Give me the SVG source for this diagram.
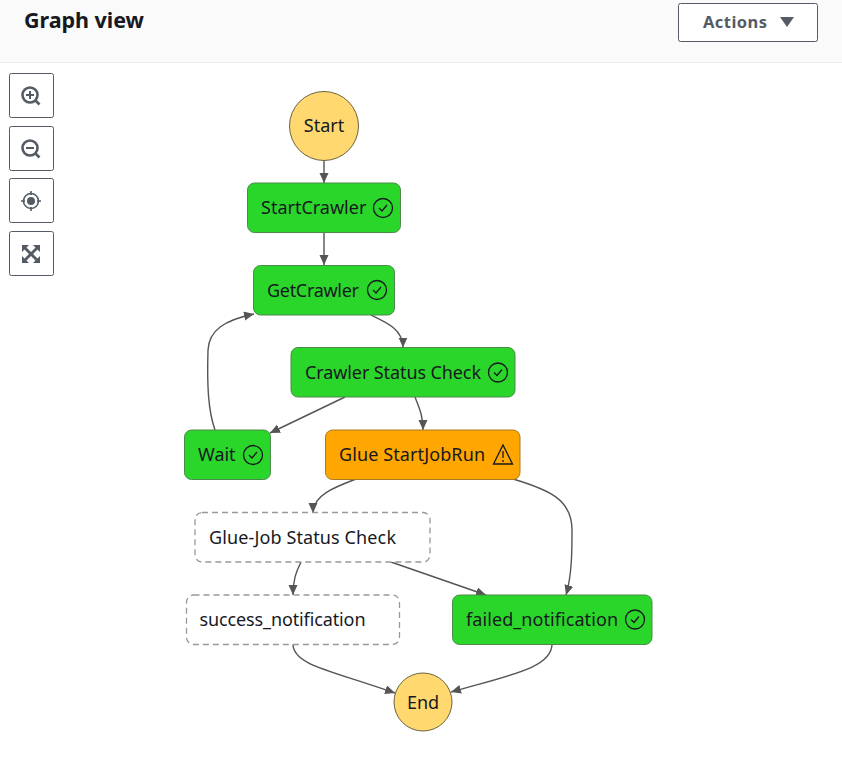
<svg xmlns="http://www.w3.org/2000/svg" width="842" height="770" viewBox="0 0 842 770">
<style>
text{font-family:"Noto Sans","Open Sans",sans-serif;font-size:18px;fill:#16191f}
.n{fill:#2bd62b;stroke:#4b8a4b;stroke-width:1}
.o{fill:#ffa600;stroke:#a87a20;stroke-width:1}
.d{fill:#fff;stroke:#999;stroke-width:1.3;stroke-dasharray:6 4}
.c{fill:#ffd86f;stroke:#6b6340;stroke-width:1}
.e{fill:none;stroke:#555;stroke-width:1.4}
.btn{fill:#fff;stroke:#545b64;stroke-width:1}
.i{fill:none;stroke:#545b64;stroke-width:2.6}
.f{fill:#545b64}
.k{fill:none;stroke:#16191f;stroke-width:1.3}
</style>
<defs>
<marker id="a" markerUnits="userSpaceOnUse" markerWidth="12" markerHeight="10" refX="10" refY="4.5" orient="auto"><path d="M0 0L10 4.5L0 9Z" fill="#555"/></marker>
<g id="ok"><circle r="9.5" class="k"/><path d="M-4 0L-1 3L4-3" class="k"/></g>
</defs>
<rect width="842" height="62" fill="#fafafa"/>
<path d="M0 62.5H842" stroke="#eaeded"/>
<text x="24" y="28" textLength="120" style="font-size:21.500px;font-weight:700">Graph view</text>
<g id="actions"><rect x="678.500" y="3.500" width="139" height="38" rx="2" class="btn"/><text x="703" y="28" textLength="64" style="font-size:16.500px;font-weight:700;fill:#545b64">Actions</text><path d="M780 17H794L787 27Z" class="f"/></g>
<g id="zoom-in"><rect x="9.500" y="73.500" width="44" height="44" rx="2" class="btn"/><circle cx="30" cy="95" r="7.500" class="i"/><path d="M35.500 100.500L39.500 104.500" class="i"/><path d="M26 95H34M30 91V99" stroke="#545b64" stroke-width="2"/></g>
<g id="zoom-out"><rect x="9.500" y="126.500" width="44" height="44" rx="2" class="btn"/><circle cx="30" cy="148" r="7.500" class="i"/><path d="M35.500 153.500L39.500 157.500" class="i"/><path d="M26 148H34" stroke="#545b64" stroke-width="2"/></g>
<g id="center"><rect x="9.500" y="178.500" width="44" height="44" rx="2" class="btn"/><circle cx="31" cy="201" r="7.500" fill="none" stroke="#545b64" stroke-width="1.600"/><circle cx="31" cy="201" r="4" class="f"/><path d="M31 191V195M31 207V211M21 201H25M37 201H41" stroke="#545b64" stroke-width="1.600"/></g>
<g id="fit"><rect x="9.500" y="231.500" width="44" height="44" rx="2" class="btn"/><path d="M22 245H29L26.500 247.500L31 252L35.500 247.500L33 245H40V252L37.500 249.500L33 254L37.500 258.500L40 256V263H33L35.500 260.500L31 256L26.500 260.500L29 263H22V256L24.500 258.500L29 254L24.500 249.500L22 252Z" class="f"/></g>
<g id="connectors">
<path class="e" marker-end="url(#a)" d="M324 160V183"/>
<path class="e" marker-end="url(#a)" d="M324 233V265"/>
<path class="e" marker-end="url(#a)" d="M371 315C388 323 403 330 403 347.500"/>
<path class="e" marker-end="url(#a)" d="M345 397L270 433"/>
<path class="e" marker-end="url(#a)" d="M415 397C419 408 423 415 423 430"/>
<path class="e" marker-end="url(#a)" d="M215 430C208 410 207 385 208 350C209 330 225 320 254 314"/>
<path class="e" marker-end="url(#a)" d="M356 479C335 487 313 495 313 513"/>
<path class="e" marker-end="url(#a)" d="M513 479C550 490 572 500 572 530C572 550 572 575 566 595"/>
<path class="e" marker-end="url(#a)" d="M301 562C296 572 293 580 293 595"/>
<path class="e" marker-end="url(#a)" d="M391 562L486 595"/>
<path class="e" marker-end="url(#a)" d="M293 644C293 665 330 670 395 693"/>
<path class="e" marker-end="url(#a)" d="M552 644C552 668 510 675 451 692"/>
</g>
<g id="start"><circle cx="324" cy="126" r="34.500" class="c"/><text x="324" y="132" text-anchor="middle">Start</text></g>
<g id="startcrawler"><rect x="247.500" y="183" width="153" height="49.500" rx="7" class="n"/><text x="261" y="214">StartCrawler</text><use href="#ok" x="383" y="208"/></g>
<g id="getcrawler"><rect x="253.500" y="265.500" width="141" height="49.500" rx="7" class="n"/><text x="267" y="297" textLength="92">GetCrawler</text><use href="#ok" x="377" y="290"/></g>
<g id="crawler-status"><rect x="291" y="347.500" width="224" height="49.500" rx="7" class="n"/><text x="305" y="379" textLength="176">Crawler Status Check</text><use href="#ok" x="498" y="372.500"/></g>
<g id="wait"><rect x="184.500" y="430" width="86" height="49.500" rx="7" class="n"/><text x="198" y="461">Wait</text><use href="#ok" x="253" y="455"/></g>
<g id="glue-start"><rect x="325.500" y="430" width="194.500" height="49.500" rx="7" class="o"/><text x="339" y="461" textLength="146">Glue StartJobRun</text><path d="M503 445L512.500 464H493.500Z" class="k"/><path d="M503 451V458M503 460V462" class="k"/></g>
<g id="glue-status"><rect x="195" y="512.500" width="235" height="49.500" rx="7" class="d"/><text x="209" y="544" textLength="187">Glue-Job Status Check</text></g>
<g id="success"><rect x="186.500" y="595" width="213" height="49.500" rx="7" class="d"/><text x="199.500" y="626" textLength="166">success_notification</text></g>
<g id="failed"><rect x="452.500" y="595" width="199.500" height="49.500" rx="7" class="n"/><text x="466" y="626" textLength="152">failed_notification</text><use href="#ok" x="635" y="619.500"/></g>
<g id="end"><circle cx="423" cy="702" r="29" class="c"/><text x="423" y="709" text-anchor="middle">End</text></g>
</svg>
